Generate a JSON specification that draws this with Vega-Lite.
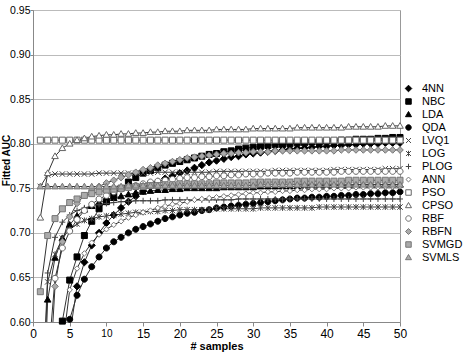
{
"$schema":"https://vega.github.io/schema/vega-lite/v6.json",
"autosize":{"type":"none"},
"padding":{"left":33,"top":10,"right":70,"bottom":31},
"width":367,"height":312,
"background":"white",
"config":{"view":{"stroke":"#999","strokeWidth":1},"font":"Liberation Sans"},
"data":{"values":[
{"s":"4NN","x":4,"y":0.50},{"s":"4NN","x":5,"y":0.585},{"s":"4NN","x":6,"y":0.640},{"s":"4NN","x":7,"y":0.667},{"s":"4NN","x":8,"y":0.686},{"s":"4NN","x":9,"y":0.700},{"s":"4NN","x":10,"y":0.711},{"s":"4NN","x":11,"y":0.720},{"s":"4NN","x":12,"y":0.728},{"s":"4NN","x":13,"y":0.735},{"s":"4NN","x":14,"y":0.741},{"s":"4NN","x":15,"y":0.747},{"s":"4NN","x":16,"y":0.752},{"s":"4NN","x":17,"y":0.757},{"s":"4NN","x":18,"y":0.761},{"s":"4NN","x":19,"y":0.764},{"s":"4NN","x":20,"y":0.767},{"s":"4NN","x":21,"y":0.770},{"s":"4NN","x":22,"y":0.773},{"s":"4NN","x":23,"y":0.776},{"s":"4NN","x":24,"y":0.779},{"s":"4NN","x":25,"y":0.781},{"s":"4NN","x":26,"y":0.783},{"s":"4NN","x":27,"y":0.785},{"s":"4NN","x":28,"y":0.786},{"s":"4NN","x":29,"y":0.788},{"s":"4NN","x":30,"y":0.789},{"s":"4NN","x":31,"y":0.790},{"s":"4NN","x":32,"y":0.791},{"s":"4NN","x":33,"y":0.792},{"s":"4NN","x":34,"y":0.793},{"s":"4NN","x":35,"y":0.794},{"s":"4NN","x":36,"y":0.795},{"s":"4NN","x":37,"y":0.795},{"s":"4NN","x":38,"y":0.796},{"s":"4NN","x":39,"y":0.797},{"s":"4NN","x":40,"y":0.797},{"s":"4NN","x":41,"y":0.798},{"s":"4NN","x":42,"y":0.798},{"s":"4NN","x":43,"y":0.799},{"s":"4NN","x":44,"y":0.799},{"s":"4NN","x":45,"y":0.800},{"s":"4NN","x":46,"y":0.800},{"s":"4NN","x":47,"y":0.800},{"s":"4NN","x":48,"y":0.801},{"s":"4NN","x":49,"y":0.801},{"s":"4NN","x":50,"y":0.801},
{"s":"NBC","x":3,"y":0.50},{"s":"NBC","x":4,"y":0.601},{"s":"NBC","x":5,"y":0.647},{"s":"NBC","x":6,"y":0.673},{"s":"NBC","x":7,"y":0.697},{"s":"NBC","x":8,"y":0.713},{"s":"NBC","x":9,"y":0.727},{"s":"NBC","x":10,"y":0.735},{"s":"NBC","x":11,"y":0.742},{"s":"NBC","x":12,"y":0.750},{"s":"NBC","x":13,"y":0.757},{"s":"NBC","x":14,"y":0.762},{"s":"NBC","x":15,"y":0.767},{"s":"NBC","x":16,"y":0.770},{"s":"NBC","x":17,"y":0.773},{"s":"NBC","x":18,"y":0.776},{"s":"NBC","x":19,"y":0.778},{"s":"NBC","x":20,"y":0.780},{"s":"NBC","x":21,"y":0.782},{"s":"NBC","x":22,"y":0.784},{"s":"NBC","x":23,"y":0.786},{"s":"NBC","x":24,"y":0.788},{"s":"NBC","x":25,"y":0.789},{"s":"NBC","x":26,"y":0.791},{"s":"NBC","x":27,"y":0.792},{"s":"NBC","x":28,"y":0.794},{"s":"NBC","x":29,"y":0.795},{"s":"NBC","x":30,"y":0.796},{"s":"NBC","x":31,"y":0.797},{"s":"NBC","x":32,"y":0.798},{"s":"NBC","x":33,"y":0.799},{"s":"NBC","x":34,"y":0.799},{"s":"NBC","x":35,"y":0.800},{"s":"NBC","x":36,"y":0.801},{"s":"NBC","x":37,"y":0.801},{"s":"NBC","x":38,"y":0.802},{"s":"NBC","x":39,"y":0.802},{"s":"NBC","x":40,"y":0.803},{"s":"NBC","x":41,"y":0.803},{"s":"NBC","x":42,"y":0.804},{"s":"NBC","x":43,"y":0.804},{"s":"NBC","x":44,"y":0.805},{"s":"NBC","x":45,"y":0.805},{"s":"NBC","x":46,"y":0.805},{"s":"NBC","x":47,"y":0.806},{"s":"NBC","x":48,"y":0.806},{"s":"NBC","x":49,"y":0.807},{"s":"NBC","x":50,"y":0.807},
{"s":"LDA","x":1,"y":0.40},{"s":"LDA","x":2,"y":0.625},{"s":"LDA","x":3,"y":0.672},{"s":"LDA","x":4,"y":0.694},{"s":"LDA","x":5,"y":0.709},{"s":"LDA","x":6,"y":0.719},{"s":"LDA","x":7,"y":0.726},{"s":"LDA","x":8,"y":0.730},{"s":"LDA","x":9,"y":0.734},{"s":"LDA","x":10,"y":0.737},{"s":"LDA","x":11,"y":0.739},{"s":"LDA","x":12,"y":0.741},{"s":"LDA","x":13,"y":0.743},{"s":"LDA","x":14,"y":0.745},{"s":"LDA","x":15,"y":0.746},{"s":"LDA","x":16,"y":0.747},{"s":"LDA","x":17,"y":0.748},{"s":"LDA","x":18,"y":0.748},{"s":"LDA","x":19,"y":0.749},{"s":"LDA","x":20,"y":0.749},{"s":"LDA","x":21,"y":0.750},{"s":"LDA","x":22,"y":0.750},{"s":"LDA","x":23,"y":0.750},{"s":"LDA","x":24,"y":0.750},{"s":"LDA","x":25,"y":0.750},{"s":"LDA","x":26,"y":0.751},{"s":"LDA","x":27,"y":0.751},{"s":"LDA","x":28,"y":0.751},{"s":"LDA","x":29,"y":0.751},{"s":"LDA","x":30,"y":0.751},{"s":"LDA","x":31,"y":0.752},{"s":"LDA","x":32,"y":0.752},{"s":"LDA","x":33,"y":0.752},{"s":"LDA","x":34,"y":0.752},{"s":"LDA","x":35,"y":0.752},{"s":"LDA","x":36,"y":0.752},{"s":"LDA","x":37,"y":0.753},{"s":"LDA","x":38,"y":0.753},{"s":"LDA","x":39,"y":0.753},{"s":"LDA","x":40,"y":0.753},{"s":"LDA","x":41,"y":0.753},{"s":"LDA","x":42,"y":0.753},{"s":"LDA","x":43,"y":0.753},{"s":"LDA","x":44,"y":0.754},{"s":"LDA","x":45,"y":0.754},{"s":"LDA","x":46,"y":0.754},{"s":"LDA","x":47,"y":0.754},{"s":"LDA","x":48,"y":0.754},{"s":"LDA","x":49,"y":0.754},{"s":"LDA","x":50,"y":0.754},
{"s":"QDA","x":4,"y":0.54},{"s":"QDA","x":5,"y":0.603},{"s":"QDA","x":6,"y":0.630},{"s":"QDA","x":7,"y":0.648},{"s":"QDA","x":8,"y":0.662},{"s":"QDA","x":9,"y":0.673},{"s":"QDA","x":10,"y":0.683},{"s":"QDA","x":11,"y":0.690},{"s":"QDA","x":12,"y":0.695},{"s":"QDA","x":13,"y":0.700},{"s":"QDA","x":14,"y":0.704},{"s":"QDA","x":15,"y":0.707},{"s":"QDA","x":16,"y":0.710},{"s":"QDA","x":17,"y":0.713},{"s":"QDA","x":18,"y":0.716},{"s":"QDA","x":19,"y":0.718},{"s":"QDA","x":20,"y":0.720},{"s":"QDA","x":21,"y":0.722},{"s":"QDA","x":22,"y":0.723},{"s":"QDA","x":23,"y":0.725},{"s":"QDA","x":24,"y":0.726},{"s":"QDA","x":25,"y":0.728},{"s":"QDA","x":26,"y":0.729},{"s":"QDA","x":27,"y":0.730},{"s":"QDA","x":28,"y":0.731},{"s":"QDA","x":29,"y":0.732},{"s":"QDA","x":30,"y":0.733},{"s":"QDA","x":31,"y":0.734},{"s":"QDA","x":32,"y":0.735},{"s":"QDA","x":33,"y":0.736},{"s":"QDA","x":34,"y":0.737},{"s":"QDA","x":35,"y":0.738},{"s":"QDA","x":36,"y":0.739},{"s":"QDA","x":37,"y":0.739},{"s":"QDA","x":38,"y":0.740},{"s":"QDA","x":39,"y":0.740},{"s":"QDA","x":40,"y":0.741},{"s":"QDA","x":41,"y":0.741},{"s":"QDA","x":42,"y":0.742},{"s":"QDA","x":43,"y":0.742},{"s":"QDA","x":44,"y":0.743},{"s":"QDA","x":45,"y":0.743},{"s":"QDA","x":46,"y":0.744},{"s":"QDA","x":47,"y":0.744},{"s":"QDA","x":48,"y":0.745},{"s":"QDA","x":49,"y":0.745},{"s":"QDA","x":50,"y":0.746},
{"s":"LVQ1","x":1,"y":0.752},{"s":"LVQ1","x":2,"y":0.765},{"s":"LVQ1","x":3,"y":0.766},{"s":"LVQ1","x":4,"y":0.766},{"s":"LVQ1","x":5,"y":0.766},{"s":"LVQ1","x":6,"y":0.766},{"s":"LVQ1","x":7,"y":0.766},{"s":"LVQ1","x":8,"y":0.766},{"s":"LVQ1","x":9,"y":0.767},{"s":"LVQ1","x":10,"y":0.767},{"s":"LVQ1","x":11,"y":0.767},{"s":"LVQ1","x":12,"y":0.767},{"s":"LVQ1","x":13,"y":0.767},{"s":"LVQ1","x":14,"y":0.767},{"s":"LVQ1","x":15,"y":0.767},{"s":"LVQ1","x":16,"y":0.767},{"s":"LVQ1","x":17,"y":0.768},{"s":"LVQ1","x":18,"y":0.768},{"s":"LVQ1","x":19,"y":0.768},{"s":"LVQ1","x":20,"y":0.768},{"s":"LVQ1","x":21,"y":0.768},{"s":"LVQ1","x":22,"y":0.768},{"s":"LVQ1","x":23,"y":0.768},{"s":"LVQ1","x":24,"y":0.768},{"s":"LVQ1","x":25,"y":0.769},{"s":"LVQ1","x":26,"y":0.769},{"s":"LVQ1","x":27,"y":0.769},{"s":"LVQ1","x":28,"y":0.769},{"s":"LVQ1","x":29,"y":0.769},{"s":"LVQ1","x":30,"y":0.769},{"s":"LVQ1","x":31,"y":0.769},{"s":"LVQ1","x":32,"y":0.769},{"s":"LVQ1","x":33,"y":0.770},{"s":"LVQ1","x":34,"y":0.770},{"s":"LVQ1","x":35,"y":0.770},{"s":"LVQ1","x":36,"y":0.770},{"s":"LVQ1","x":37,"y":0.770},{"s":"LVQ1","x":38,"y":0.770},{"s":"LVQ1","x":39,"y":0.770},{"s":"LVQ1","x":40,"y":0.770},{"s":"LVQ1","x":41,"y":0.771},{"s":"LVQ1","x":42,"y":0.771},{"s":"LVQ1","x":43,"y":0.771},{"s":"LVQ1","x":44,"y":0.771},{"s":"LVQ1","x":45,"y":0.771},{"s":"LVQ1","x":46,"y":0.771},{"s":"LVQ1","x":47,"y":0.771},{"s":"LVQ1","x":48,"y":0.772},{"s":"LVQ1","x":49,"y":0.772},{"s":"LVQ1","x":50,"y":0.772},
{"s":"LOG","x":1,"y":0.45},{"s":"LOG","x":2,"y":0.645},{"s":"LOG","x":3,"y":0.676},{"s":"LOG","x":4,"y":0.694},{"s":"LOG","x":5,"y":0.704},{"s":"LOG","x":6,"y":0.710},{"s":"LOG","x":7,"y":0.714},{"s":"LOG","x":8,"y":0.716},{"s":"LOG","x":9,"y":0.718},{"s":"LOG","x":10,"y":0.719},{"s":"LOG","x":11,"y":0.720},{"s":"LOG","x":12,"y":0.721},{"s":"LOG","x":13,"y":0.722},{"s":"LOG","x":14,"y":0.723},{"s":"LOG","x":15,"y":0.723},{"s":"LOG","x":16,"y":0.724},{"s":"LOG","x":17,"y":0.724},{"s":"LOG","x":18,"y":0.725},{"s":"LOG","x":19,"y":0.725},{"s":"LOG","x":20,"y":0.726},{"s":"LOG","x":21,"y":0.726},{"s":"LOG","x":22,"y":0.726},{"s":"LOG","x":23,"y":0.726},{"s":"LOG","x":24,"y":0.726},{"s":"LOG","x":25,"y":0.727},{"s":"LOG","x":26,"y":0.727},{"s":"LOG","x":27,"y":0.727},{"s":"LOG","x":28,"y":0.727},{"s":"LOG","x":29,"y":0.727},{"s":"LOG","x":30,"y":0.727},{"s":"LOG","x":31,"y":0.728},{"s":"LOG","x":32,"y":0.728},{"s":"LOG","x":33,"y":0.728},{"s":"LOG","x":34,"y":0.728},{"s":"LOG","x":35,"y":0.728},{"s":"LOG","x":36,"y":0.728},{"s":"LOG","x":37,"y":0.728},{"s":"LOG","x":38,"y":0.728},{"s":"LOG","x":39,"y":0.729},{"s":"LOG","x":40,"y":0.729},{"s":"LOG","x":41,"y":0.729},{"s":"LOG","x":42,"y":0.729},{"s":"LOG","x":43,"y":0.729},{"s":"LOG","x":44,"y":0.729},{"s":"LOG","x":45,"y":0.729},{"s":"LOG","x":46,"y":0.729},{"s":"LOG","x":47,"y":0.729},{"s":"LOG","x":48,"y":0.729},{"s":"LOG","x":49,"y":0.729},{"s":"LOG","x":50,"y":0.729},
{"s":"PLOG","x":1,"y":0.45},{"s":"PLOG","x":2,"y":0.655},{"s":"PLOG","x":3,"y":0.695},{"s":"PLOG","x":4,"y":0.712},{"s":"PLOG","x":5,"y":0.720},{"s":"PLOG","x":6,"y":0.725},{"s":"PLOG","x":7,"y":0.728},{"s":"PLOG","x":8,"y":0.730},{"s":"PLOG","x":9,"y":0.732},{"s":"PLOG","x":10,"y":0.733},{"s":"PLOG","x":11,"y":0.734},{"s":"PLOG","x":12,"y":0.735},{"s":"PLOG","x":13,"y":0.735},{"s":"PLOG","x":14,"y":0.736},{"s":"PLOG","x":15,"y":0.736},{"s":"PLOG","x":16,"y":0.736},{"s":"PLOG","x":17,"y":0.736},{"s":"PLOG","x":18,"y":0.737},{"s":"PLOG","x":19,"y":0.737},{"s":"PLOG","x":20,"y":0.737},{"s":"PLOG","x":21,"y":0.737},{"s":"PLOG","x":22,"y":0.737},{"s":"PLOG","x":23,"y":0.737},{"s":"PLOG","x":24,"y":0.737},{"s":"PLOG","x":25,"y":0.737},{"s":"PLOG","x":26,"y":0.737},{"s":"PLOG","x":27,"y":0.737},{"s":"PLOG","x":28,"y":0.738},{"s":"PLOG","x":29,"y":0.738},{"s":"PLOG","x":30,"y":0.738},{"s":"PLOG","x":31,"y":0.738},{"s":"PLOG","x":32,"y":0.738},{"s":"PLOG","x":33,"y":0.738},{"s":"PLOG","x":34,"y":0.738},{"s":"PLOG","x":35,"y":0.738},{"s":"PLOG","x":36,"y":0.738},{"s":"PLOG","x":37,"y":0.738},{"s":"PLOG","x":38,"y":0.738},{"s":"PLOG","x":39,"y":0.738},{"s":"PLOG","x":40,"y":0.738},{"s":"PLOG","x":41,"y":0.738},{"s":"PLOG","x":42,"y":0.738},{"s":"PLOG","x":43,"y":0.738},{"s":"PLOG","x":44,"y":0.738},{"s":"PLOG","x":45,"y":0.738},{"s":"PLOG","x":46,"y":0.738},{"s":"PLOG","x":47,"y":0.738},{"s":"PLOG","x":48,"y":0.738},{"s":"PLOG","x":49,"y":0.738},{"s":"PLOG","x":50,"y":0.738},
{"s":"ANN","x":4,"y":0.57},{"s":"ANN","x":5,"y":0.636},{"s":"ANN","x":6,"y":0.660},{"s":"ANN","x":7,"y":0.677},{"s":"ANN","x":8,"y":0.689},{"s":"ANN","x":9,"y":0.698},{"s":"ANN","x":10,"y":0.704},{"s":"ANN","x":11,"y":0.709},{"s":"ANN","x":12,"y":0.713},{"s":"ANN","x":13,"y":0.717},{"s":"ANN","x":14,"y":0.720},{"s":"ANN","x":15,"y":0.723},{"s":"ANN","x":16,"y":0.725},{"s":"ANN","x":17,"y":0.728},{"s":"ANN","x":18,"y":0.730},{"s":"ANN","x":19,"y":0.732},{"s":"ANN","x":20,"y":0.733},{"s":"ANN","x":21,"y":0.735},{"s":"ANN","x":22,"y":0.737},{"s":"ANN","x":23,"y":0.738},{"s":"ANN","x":24,"y":0.739},{"s":"ANN","x":25,"y":0.740},{"s":"ANN","x":26,"y":0.741},{"s":"ANN","x":27,"y":0.742},{"s":"ANN","x":28,"y":0.743},{"s":"ANN","x":29,"y":0.744},{"s":"ANN","x":30,"y":0.745},{"s":"ANN","x":31,"y":0.745},{"s":"ANN","x":32,"y":0.746},{"s":"ANN","x":33,"y":0.746},{"s":"ANN","x":34,"y":0.747},{"s":"ANN","x":35,"y":0.747},{"s":"ANN","x":36,"y":0.748},{"s":"ANN","x":37,"y":0.748},{"s":"ANN","x":38,"y":0.749},{"s":"ANN","x":39,"y":0.749},{"s":"ANN","x":40,"y":0.749},{"s":"ANN","x":41,"y":0.750},{"s":"ANN","x":42,"y":0.750},{"s":"ANN","x":43,"y":0.750},{"s":"ANN","x":44,"y":0.751},{"s":"ANN","x":45,"y":0.751},{"s":"ANN","x":46,"y":0.751},{"s":"ANN","x":47,"y":0.751},{"s":"ANN","x":48,"y":0.752},{"s":"ANN","x":49,"y":0.752},{"s":"ANN","x":50,"y":0.752},
{"s":"PSO","x":1,"y":0.804},{"s":"PSO","x":2,"y":0.804},{"s":"PSO","x":3,"y":0.804},{"s":"PSO","x":4,"y":0.804},{"s":"PSO","x":5,"y":0.804},{"s":"PSO","x":6,"y":0.804},{"s":"PSO","x":7,"y":0.804},{"s":"PSO","x":8,"y":0.804},{"s":"PSO","x":9,"y":0.804},{"s":"PSO","x":10,"y":0.804},{"s":"PSO","x":11,"y":0.804},{"s":"PSO","x":12,"y":0.804},{"s":"PSO","x":13,"y":0.804},{"s":"PSO","x":14,"y":0.804},{"s":"PSO","x":15,"y":0.804},{"s":"PSO","x":16,"y":0.804},{"s":"PSO","x":17,"y":0.804},{"s":"PSO","x":18,"y":0.804},{"s":"PSO","x":19,"y":0.804},{"s":"PSO","x":20,"y":0.804},{"s":"PSO","x":21,"y":0.804},{"s":"PSO","x":22,"y":0.804},{"s":"PSO","x":23,"y":0.804},{"s":"PSO","x":24,"y":0.804},{"s":"PSO","x":25,"y":0.804},{"s":"PSO","x":26,"y":0.804},{"s":"PSO","x":27,"y":0.804},{"s":"PSO","x":28,"y":0.804},{"s":"PSO","x":29,"y":0.804},{"s":"PSO","x":30,"y":0.804},{"s":"PSO","x":31,"y":0.804},{"s":"PSO","x":32,"y":0.804},{"s":"PSO","x":33,"y":0.804},{"s":"PSO","x":34,"y":0.804},{"s":"PSO","x":35,"y":0.804},{"s":"PSO","x":36,"y":0.804},{"s":"PSO","x":37,"y":0.804},{"s":"PSO","x":38,"y":0.804},{"s":"PSO","x":39,"y":0.804},{"s":"PSO","x":40,"y":0.804},{"s":"PSO","x":41,"y":0.804},{"s":"PSO","x":42,"y":0.804},{"s":"PSO","x":43,"y":0.804},{"s":"PSO","x":44,"y":0.804},{"s":"PSO","x":45,"y":0.804},{"s":"PSO","x":46,"y":0.804},{"s":"PSO","x":47,"y":0.804},{"s":"PSO","x":48,"y":0.804},{"s":"PSO","x":49,"y":0.804},{"s":"PSO","x":50,"y":0.804},
{"s":"CPSO","x":1,"y":0.717},{"s":"CPSO","x":2,"y":0.767},{"s":"CPSO","x":3,"y":0.786},{"s":"CPSO","x":4,"y":0.795},{"s":"CPSO","x":5,"y":0.800},{"s":"CPSO","x":6,"y":0.804},{"s":"CPSO","x":7,"y":0.806},{"s":"CPSO","x":8,"y":0.808},{"s":"CPSO","x":9,"y":0.809},{"s":"CPSO","x":10,"y":0.810},{"s":"CPSO","x":11,"y":0.810},{"s":"CPSO","x":12,"y":0.811},{"s":"CPSO","x":13,"y":0.811},{"s":"CPSO","x":14,"y":0.812},{"s":"CPSO","x":15,"y":0.812},{"s":"CPSO","x":16,"y":0.813},{"s":"CPSO","x":17,"y":0.813},{"s":"CPSO","x":18,"y":0.814},{"s":"CPSO","x":19,"y":0.814},{"s":"CPSO","x":20,"y":0.814},{"s":"CPSO","x":21,"y":0.815},{"s":"CPSO","x":22,"y":0.815},{"s":"CPSO","x":23,"y":0.815},{"s":"CPSO","x":24,"y":0.815},{"s":"CPSO","x":25,"y":0.816},{"s":"CPSO","x":26,"y":0.816},{"s":"CPSO","x":27,"y":0.816},{"s":"CPSO","x":28,"y":0.816},{"s":"CPSO","x":29,"y":0.816},{"s":"CPSO","x":30,"y":0.817},{"s":"CPSO","x":31,"y":0.817},{"s":"CPSO","x":32,"y":0.817},{"s":"CPSO","x":33,"y":0.817},{"s":"CPSO","x":34,"y":0.817},{"s":"CPSO","x":35,"y":0.817},{"s":"CPSO","x":36,"y":0.818},{"s":"CPSO","x":37,"y":0.818},{"s":"CPSO","x":38,"y":0.818},{"s":"CPSO","x":39,"y":0.818},{"s":"CPSO","x":40,"y":0.818},{"s":"CPSO","x":41,"y":0.818},{"s":"CPSO","x":42,"y":0.818},{"s":"CPSO","x":43,"y":0.819},{"s":"CPSO","x":44,"y":0.819},{"s":"CPSO","x":45,"y":0.819},{"s":"CPSO","x":46,"y":0.819},{"s":"CPSO","x":47,"y":0.819},{"s":"CPSO","x":48,"y":0.820},{"s":"CPSO","x":49,"y":0.820},{"s":"CPSO","x":50,"y":0.820},
{"s":"RBF","x":2,"y":0.55},{"s":"RBF","x":3,"y":0.649},{"s":"RBF","x":4,"y":0.683},{"s":"RBF","x":5,"y":0.702},{"s":"RBF","x":6,"y":0.715},{"s":"RBF","x":7,"y":0.725},{"s":"RBF","x":8,"y":0.732},{"s":"RBF","x":9,"y":0.738},{"s":"RBF","x":10,"y":0.742},{"s":"RBF","x":11,"y":0.746},{"s":"RBF","x":12,"y":0.749},{"s":"RBF","x":13,"y":0.751},{"s":"RBF","x":14,"y":0.753},{"s":"RBF","x":15,"y":0.755},{"s":"RBF","x":16,"y":0.757},{"s":"RBF","x":17,"y":0.758},{"s":"RBF","x":18,"y":0.759},{"s":"RBF","x":19,"y":0.760},{"s":"RBF","x":20,"y":0.761},{"s":"RBF","x":21,"y":0.762},{"s":"RBF","x":22,"y":0.762},{"s":"RBF","x":23,"y":0.763},{"s":"RBF","x":24,"y":0.763},{"s":"RBF","x":25,"y":0.764},{"s":"RBF","x":26,"y":0.764},{"s":"RBF","x":27,"y":0.765},{"s":"RBF","x":28,"y":0.765},{"s":"RBF","x":29,"y":0.766},{"s":"RBF","x":30,"y":0.766},{"s":"RBF","x":31,"y":0.766},{"s":"RBF","x":32,"y":0.767},{"s":"RBF","x":33,"y":0.767},{"s":"RBF","x":34,"y":0.767},{"s":"RBF","x":35,"y":0.767},{"s":"RBF","x":36,"y":0.768},{"s":"RBF","x":37,"y":0.768},{"s":"RBF","x":38,"y":0.768},{"s":"RBF","x":39,"y":0.768},{"s":"RBF","x":40,"y":0.768},{"s":"RBF","x":41,"y":0.768},{"s":"RBF","x":42,"y":0.769},{"s":"RBF","x":43,"y":0.769},{"s":"RBF","x":44,"y":0.769},{"s":"RBF","x":45,"y":0.769},{"s":"RBF","x":46,"y":0.769},{"s":"RBF","x":47,"y":0.769},{"s":"RBF","x":48,"y":0.769},{"s":"RBF","x":49,"y":0.769},{"s":"RBF","x":50,"y":0.769},
{"s":"RBFN","x":2,"y":0.50},{"s":"RBFN","x":3,"y":0.640},{"s":"RBFN","x":4,"y":0.690},{"s":"RBFN","x":5,"y":0.718},{"s":"RBFN","x":6,"y":0.733},{"s":"RBFN","x":7,"y":0.742},{"s":"RBFN","x":8,"y":0.748},{"s":"RBFN","x":9,"y":0.752},{"s":"RBFN","x":10,"y":0.756},{"s":"RBFN","x":11,"y":0.759},{"s":"RBFN","x":12,"y":0.762},{"s":"RBFN","x":13,"y":0.765},{"s":"RBFN","x":14,"y":0.768},{"s":"RBFN","x":15,"y":0.771},{"s":"RBFN","x":16,"y":0.773},{"s":"RBFN","x":17,"y":0.776},{"s":"RBFN","x":18,"y":0.778},{"s":"RBFN","x":19,"y":0.780},{"s":"RBFN","x":20,"y":0.782},{"s":"RBFN","x":21,"y":0.784},{"s":"RBFN","x":22,"y":0.785},{"s":"RBFN","x":23,"y":0.786},{"s":"RBFN","x":24,"y":0.787},{"s":"RBFN","x":25,"y":0.788},{"s":"RBFN","x":26,"y":0.789},{"s":"RBFN","x":27,"y":0.789},{"s":"RBFN","x":28,"y":0.790},{"s":"RBFN","x":29,"y":0.790},{"s":"RBFN","x":30,"y":0.791},{"s":"RBFN","x":31,"y":0.791},{"s":"RBFN","x":32,"y":0.791},{"s":"RBFN","x":33,"y":0.792},{"s":"RBFN","x":34,"y":0.792},{"s":"RBFN","x":35,"y":0.792},{"s":"RBFN","x":36,"y":0.792},{"s":"RBFN","x":37,"y":0.792},{"s":"RBFN","x":38,"y":0.792},{"s":"RBFN","x":39,"y":0.792},{"s":"RBFN","x":40,"y":0.792},{"s":"RBFN","x":41,"y":0.792},{"s":"RBFN","x":42,"y":0.793},{"s":"RBFN","x":43,"y":0.793},{"s":"RBFN","x":44,"y":0.793},{"s":"RBFN","x":45,"y":0.793},{"s":"RBFN","x":46,"y":0.793},{"s":"RBFN","x":47,"y":0.793},{"s":"RBFN","x":48,"y":0.793},{"s":"RBFN","x":49,"y":0.793},{"s":"RBFN","x":50,"y":0.793},
{"s":"SVMGD","x":1,"y":0.634},{"s":"SVMGD","x":2,"y":0.697},{"s":"SVMGD","x":3,"y":0.716},{"s":"SVMGD","x":4,"y":0.727},{"s":"SVMGD","x":5,"y":0.734},{"s":"SVMGD","x":6,"y":0.738},{"s":"SVMGD","x":7,"y":0.742},{"s":"SVMGD","x":8,"y":0.744},{"s":"SVMGD","x":9,"y":0.746},{"s":"SVMGD","x":10,"y":0.748},{"s":"SVMGD","x":11,"y":0.749},{"s":"SVMGD","x":12,"y":0.750},{"s":"SVMGD","x":13,"y":0.751},{"s":"SVMGD","x":14,"y":0.752},{"s":"SVMGD","x":15,"y":0.752},{"s":"SVMGD","x":16,"y":0.753},{"s":"SVMGD","x":17,"y":0.753},{"s":"SVMGD","x":18,"y":0.754},{"s":"SVMGD","x":19,"y":0.754},{"s":"SVMGD","x":20,"y":0.755},{"s":"SVMGD","x":21,"y":0.755},{"s":"SVMGD","x":22,"y":0.755},{"s":"SVMGD","x":23,"y":0.755},{"s":"SVMGD","x":24,"y":0.755},{"s":"SVMGD","x":25,"y":0.756},{"s":"SVMGD","x":26,"y":0.756},{"s":"SVMGD","x":27,"y":0.756},{"s":"SVMGD","x":28,"y":0.756},{"s":"SVMGD","x":29,"y":0.756},{"s":"SVMGD","x":30,"y":0.757},{"s":"SVMGD","x":31,"y":0.757},{"s":"SVMGD","x":32,"y":0.757},{"s":"SVMGD","x":33,"y":0.757},{"s":"SVMGD","x":34,"y":0.757},{"s":"SVMGD","x":35,"y":0.757},{"s":"SVMGD","x":36,"y":0.758},{"s":"SVMGD","x":37,"y":0.758},{"s":"SVMGD","x":38,"y":0.758},{"s":"SVMGD","x":39,"y":0.758},{"s":"SVMGD","x":40,"y":0.758},{"s":"SVMGD","x":41,"y":0.758},{"s":"SVMGD","x":42,"y":0.758},{"s":"SVMGD","x":43,"y":0.759},{"s":"SVMGD","x":44,"y":0.759},{"s":"SVMGD","x":45,"y":0.759},{"s":"SVMGD","x":46,"y":0.759},{"s":"SVMGD","x":47,"y":0.759},{"s":"SVMGD","x":48,"y":0.759},{"s":"SVMGD","x":49,"y":0.759},{"s":"SVMGD","x":50,"y":0.759},
{"s":"SVMLS","x":1,"y":0.752},{"s":"SVMLS","x":2,"y":0.752},{"s":"SVMLS","x":3,"y":0.752},{"s":"SVMLS","x":4,"y":0.752},{"s":"SVMLS","x":5,"y":0.752},{"s":"SVMLS","x":6,"y":0.752},{"s":"SVMLS","x":7,"y":0.752},{"s":"SVMLS","x":8,"y":0.752},{"s":"SVMLS","x":9,"y":0.752},{"s":"SVMLS","x":10,"y":0.752},{"s":"SVMLS","x":11,"y":0.752},{"s":"SVMLS","x":12,"y":0.752},{"s":"SVMLS","x":13,"y":0.753},{"s":"SVMLS","x":14,"y":0.753},{"s":"SVMLS","x":15,"y":0.753},{"s":"SVMLS","x":16,"y":0.753},{"s":"SVMLS","x":17,"y":0.753},{"s":"SVMLS","x":18,"y":0.753},{"s":"SVMLS","x":19,"y":0.753},{"s":"SVMLS","x":20,"y":0.753},{"s":"SVMLS","x":21,"y":0.753},{"s":"SVMLS","x":22,"y":0.753},{"s":"SVMLS","x":23,"y":0.753},{"s":"SVMLS","x":24,"y":0.753},{"s":"SVMLS","x":25,"y":0.753},{"s":"SVMLS","x":26,"y":0.753},{"s":"SVMLS","x":27,"y":0.753},{"s":"SVMLS","x":28,"y":0.753},{"s":"SVMLS","x":29,"y":0.753},{"s":"SVMLS","x":30,"y":0.753},{"s":"SVMLS","x":31,"y":0.754},{"s":"SVMLS","x":32,"y":0.754},{"s":"SVMLS","x":33,"y":0.754},{"s":"SVMLS","x":34,"y":0.754},{"s":"SVMLS","x":35,"y":0.754},{"s":"SVMLS","x":36,"y":0.754},{"s":"SVMLS","x":37,"y":0.754},{"s":"SVMLS","x":38,"y":0.754},{"s":"SVMLS","x":39,"y":0.754},{"s":"SVMLS","x":40,"y":0.754},{"s":"SVMLS","x":41,"y":0.754},{"s":"SVMLS","x":42,"y":0.754},{"s":"SVMLS","x":43,"y":0.754},{"s":"SVMLS","x":44,"y":0.754},{"s":"SVMLS","x":45,"y":0.754},{"s":"SVMLS","x":46,"y":0.754},{"s":"SVMLS","x":47,"y":0.754},{"s":"SVMLS","x":48,"y":0.754},{"s":"SVMLS","x":49,"y":0.754},{"s":"SVMLS","x":50,"y":0.754}
]},
"encoding":{
"x":{"field":"x","type":"quantitative","scale":{"domain":[0,50],"nice":false},
 "axis":{"values":[0,5,10,15,20,25,30,35,40,45,50],"grid":false,"title":"# samples","titleFontSize":11,"titleFontWeight":"bold","titleColor":"black","titlePadding":1,
 "labelFontSize":{"condition":{"test":"datum.value == 10","value":10},"value":12},"labelColor":"black","labelPadding":2,"tickSize":4,"tickColor":"#888","domainColor":"#888","labelFlush":false}},
"y":{"field":"y","type":"quantitative","scale":{"domain":[0.6,0.95],"nice":false,"zero":false},
 "axis":{"values":[0.6,0.65,0.7,0.75,0.8,0.85,0.9,0.95],"format":".2f","grid":true,"gridColor":"#bbb","title":"Fitted AUC","titleFontSize":10,"titleFontWeight":"bold","titleColor":"black","titleX":-27,"titleY":150,"titleAngle":270,"titleBaseline":"middle","titleAlign":"center",
 "labelFontSize":10.5,"labelColor":"black","labelPadding":0,"tickSize":3,"tickColor":"#888","domainColor":"#888","labelFlush":false}}
},
"layer":[
{"mark":{"type":"line","clip":true,"strokeWidth":1,"color":"#333"},"encoding":{"detail":{"field":"s"}}},
{"transform":[{"filter":"datum.y >= 0.598"}],
 "mark":{"type":"point","size":36,"strokeWidth":1,"opacity":1},
 "encoding":{
  "shape":{"field":"s","type":"nominal","scale":{"domain":["4NN","NBC","LDA","QDA","LVQ1","LOG","PLOG","ANN","PSO","CPSO","RBF","RBFN","SVMGD","SVMLS"],
   "range":["M0,-1.2L1.2,0L0,1.2L-1.2,0Z","M-1,-1H1V1H-1Z","M0,-1.1L1.1,0.8H-1.1Z","M1,0A1,1,0,1,1,-1,0A1,1,0,1,1,1,0Z","M-0.9,-0.9L0.9,0.9M-0.9,0.9L0.9,-0.9","M-0.9,-0.9L0.9,0.9M-0.9,0.9L0.9,-0.9M0,-1L0,1","M-1,0H1M0,-1V1","M0,-0.9L0.9,0L0,0.9L-0.9,0Z","M-1,-1H1V1H-1Z","M0,-1.1L1.1,0.8H-1.1Z","M1,0A1,1,0,1,1,-1,0A1,1,0,1,1,1,0Z","M0,-1.1L1.1,0L0,1.1L-1.1,0Z","M-1,-1H1V1H-1Z","M0,-1.1L1.1,0.8H-1.1Z"]},
   "legend":{"title":null,"orient":"none","legendX":370,"legendY":73,"symbolSize":30,"symbolStrokeWidth":1,"labelFontSize":11,"labelColor":"black","labelOffset":8,"rowPadding":1}},
  "fill":{"field":"s","type":"nominal","scale":{"domain":["4NN","NBC","LDA","QDA","LVQ1","LOG","PLOG","ANN","PSO","CPSO","RBF","RBFN","SVMGD","SVMLS"],
   "range":["#000","#000","#000","#000","#fff","#fff","#fff","#fff","#fff","#fff","#fff","#aaa","#aaa","#aaa"]},"legend":{"title":null,"orient":"none","legendX":370,"legendY":73,"symbolSize":30,"symbolStrokeWidth":1,"labelFontSize":11,"labelColor":"black","labelOffset":8,"rowPadding":1}},
  "stroke":{"field":"s","type":"nominal","scale":{"domain":["4NN","NBC","LDA","QDA","LVQ1","LOG","PLOG","ANN","PSO","CPSO","RBF","RBFN","SVMGD","SVMLS"],
   "range":["#000","#000","#000","#000","#444","#444","#444","#777","#666","#666","#666","#777","#777","#777"]},"legend":{"title":null,"orient":"none","legendX":370,"legendY":73,"symbolSize":30,"symbolStrokeWidth":1,"labelFontSize":11,"labelColor":"black","labelOffset":8,"rowPadding":1}}
 }}
]
}
